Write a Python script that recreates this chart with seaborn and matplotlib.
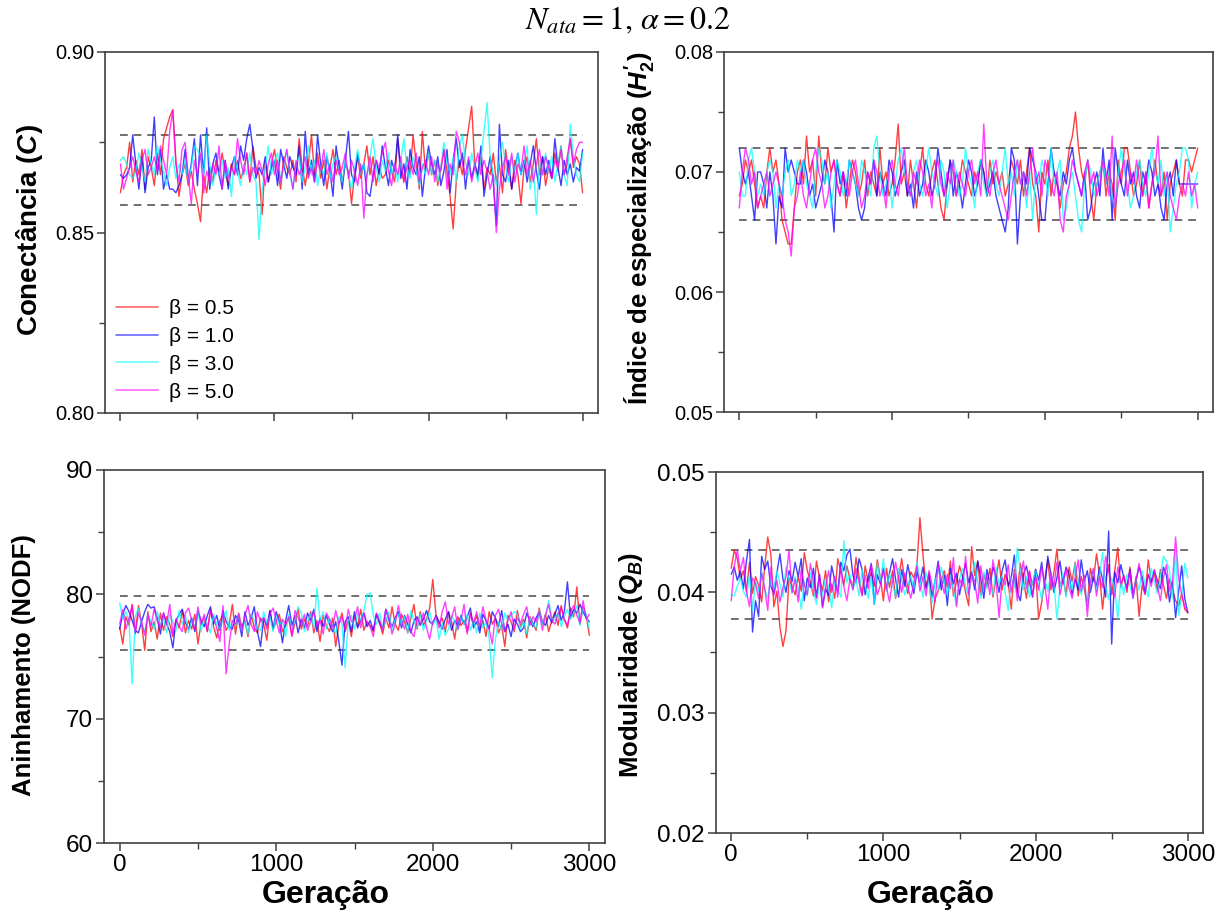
import numpy as np
import pandas as pd
import matplotlib
matplotlib.use("Agg")
import matplotlib.pyplot as plt
import seaborn as sns
from matplotlib.ticker import MultipleLocator, FormatStrFormatter

# ---------------- data ----------------
geracao = np.arange(0, 3001, 20)
betas = ["β = 0.5", "β = 1.0", "β = 3.0", "β = 5.0"]

# Conectancia (C), thousandths
con_b05 = [861, 866, 868, 875, 864, 870, 866, 873, 862, 871,
           868, 863, 872, 866, 876, 879, 882, 884, 870, 860,
           866, 869, 863, 867, 862, 858, 853, 866, 861, 868,
           864, 870, 866, 872, 867, 863, 869, 866, 870, 865,
           867, 872, 864, 874, 868, 866, 855, 870, 864, 869,
           873, 867, 862, 871, 868, 866, 870, 864, 876, 868,
           863, 869, 877, 866, 872, 865, 870, 862, 868, 873,
           866, 870, 864, 869, 867, 858, 866, 871, 865, 869,
           874, 866, 871, 863, 868, 865, 866, 870, 867, 864,
           876, 868, 864, 871, 866, 877, 869, 862, 878, 867,
           872, 866, 870, 863, 868, 873, 867, 860, 851, 864,
           870, 866, 873, 879, 885, 869, 865, 871, 862, 868,
           866, 872, 864, 869, 861, 873, 867, 862, 870, 866,
           858, 868, 871, 864, 869, 876, 866, 871, 863, 868,
           865, 872, 867, 874, 866, 869, 876, 868, 871, 869,
           861]
con_b10 = [866, 865, 866, 868, 877, 869, 862, 871, 861, 868,
           870, 882, 866, 873, 862, 866, 862, 862, 861, 863,
           866, 873, 864, 869, 876, 863, 877, 866, 879, 862,
           869, 872, 866, 862, 870, 862, 868, 871, 866, 874,
           870, 876, 880, 873, 865, 868, 866, 871, 864, 868,
           870, 863, 873, 869, 865, 871, 868, 866, 874, 862,
           878, 866, 870, 864, 877, 869, 863, 871, 867, 860,
           874, 868, 862, 870, 878, 866, 864, 872, 867, 869,
           861, 860, 866, 870, 866, 874, 868, 863, 870, 867,
           877, 865, 869, 862, 873, 868, 866, 871, 860, 868,
           874, 869, 866, 871, 863, 867, 873, 861, 870, 876,
           868, 872, 862, 870, 865, 869, 866, 874, 860, 866,
           871, 864, 852, 880, 866, 864, 870, 862, 868, 872,
           866, 870, 864, 869, 874, 867, 862, 871, 866, 870,
           865, 876, 868, 863, 870, 866, 869, 864, 868, 867,
           873]
con_b30 = [870, 871, 869, 866, 865, 867, 872, 868, 864, 873,
           869, 866, 874, 870, 867, 863, 868, 871, 865, 869,
           866, 870, 864, 868, 874, 873, 871, 866, 877, 869,
           863, 868, 866, 870, 865, 868, 860, 871, 867, 863,
           869, 866, 872, 866, 864, 848, 862, 868, 874, 866,
           870, 872, 864, 868, 873, 866, 862, 869, 871, 864,
           868, 874, 866, 870, 863, 868, 866, 872, 865, 869,
           871, 867, 864, 870, 866, 862, 868, 873, 866, 869,
           865, 871, 876, 868, 864, 870, 867, 872, 866, 869,
           864, 870, 876, 868, 865, 871, 867, 863, 869, 866,
           872, 866, 870, 864, 868, 875, 869, 866, 871, 864,
           874, 877, 869, 866, 872, 868, 864, 870, 878, 886,
           871, 866, 863, 870, 875, 868, 864, 871, 867, 872,
           866, 869, 874, 862, 868, 855, 870, 866, 872, 867,
           871, 864, 869, 874, 866, 863, 880, 871, 866, 864,
           872]
con_b50 = [869, 862, 865, 868, 871, 867, 864, 870, 873, 866,
           868, 871, 867, 874, 870, 866, 878, 884, 869, 864,
           873, 875, 866, 858, 870, 866, 872, 861, 867, 864,
           869, 866, 874, 862, 870, 865, 868, 866, 876, 870,
           866, 872, 864, 868, 866, 870, 867, 863, 869, 872,
           866, 870, 864, 869, 873, 867, 862, 870, 866, 868,
           871, 865, 868, 864, 870, 867, 873, 866, 869, 864,
           870, 866, 868, 872, 865, 870, 867, 863, 869, 854,
           866, 871, 864, 870, 868, 872, 875, 867, 863, 869,
           866, 871, 864, 868, 870, 866, 872, 864, 868, 870,
           866, 871, 864, 869, 867, 873, 862, 869, 866, 878,
           875, 869, 866, 871, 864, 868, 872, 866, 870, 867,
           862, 866, 850, 862, 868, 871, 866, 872, 864, 869,
           867, 874, 866, 870, 864, 869, 873, 866, 871, 868,
           865, 870, 868, 873, 866, 871, 876, 869, 873, 875,
           875]

# Indice de especializacao (H2'), thousandths
h2_b05 = [68, 69, 71, 70, 71, 69, 67, 68, 67, 70,
          72, 70, 71, 69, 66, 65, 64, 64, 67, 70,
          71, 69, 73, 70, 71, 68, 73, 70, 69, 72,
          70, 71, 69, 68, 70, 67, 69, 71, 70, 68,
          69, 71, 68, 70, 69, 68, 72, 69, 70, 68,
          69, 71, 74, 69, 70, 68, 71, 69, 67, 70,
          72, 69, 68, 70, 71, 69, 67, 66, 69, 71,
          70, 68, 69, 71, 70, 69, 68, 70, 69, 71,
          70, 68, 71, 69, 70, 69, 70, 68, 69, 71,
          70, 69, 71, 68, 70, 72, 69, 68, 65, 70,
          69, 71, 68, 70, 69, 67, 69, 70, 72, 73,
          75, 72, 70, 69, 71, 68, 66, 69, 70, 71,
          68, 70, 69, 66, 71, 69, 72, 72, 70, 68,
          69, 71, 68, 70, 67, 69, 71, 69, 68, 70,
          66, 69, 70, 71, 69, 68, 71, 71, 70, 71,
          72]
h2_b10 = [72, 70, 69, 70, 68, 66, 70, 70, 69, 67,
          70, 68, 64, 68, 67, 72, 70, 71, 70, 69,
          69, 71, 70, 68, 69, 67, 68, 69, 71, 70,
          68, 65, 71, 69, 70, 68, 71, 70, 69, 67,
          66, 67, 70, 69, 71, 68, 70, 69, 68, 71,
          70, 68, 69, 70, 71, 68, 69, 67, 70, 68,
          69, 71, 70, 68, 69, 72, 70, 68, 69, 71,
          68, 70, 69, 67, 69, 71, 70, 68, 69, 71,
          70, 68, 69, 70, 68, 67, 66, 65, 67, 72,
          71, 64, 68, 70, 69, 72, 71, 70, 68, 66,
          66, 69, 72, 70, 69, 68, 70, 69, 71, 72,
          70, 69, 68, 70, 66, 67, 69, 70, 68, 72,
          69, 71, 66, 72, 70, 69, 68, 71, 69, 70,
          68, 67, 70, 69, 71, 70, 68, 69, 67, 66,
          69, 70, 68, 71, 69, 69, 69, 69, 69, 69,
          69]
h2_b30 = [70, 68, 68, 71, 72, 70, 68, 69, 68, 70,
          71, 70, 67, 69, 68, 70, 71, 68, 69, 71,
          70, 71, 69, 68, 67, 70, 72, 71, 69, 70,
          67, 69, 71, 70, 68, 69, 71, 70, 69, 68,
          71, 70, 69, 68, 72, 73, 70, 68, 69, 70,
          67, 69, 71, 72, 70, 69, 68, 70, 71, 69,
          68, 70, 72, 70, 69, 68, 71, 70, 67, 69,
          71, 70, 68, 69, 72, 70, 69, 67, 70, 71,
          69, 68, 70, 71, 69, 68, 70, 72, 69, 70,
          68, 71, 69, 70, 67, 70, 66, 70, 69, 71,
          70, 68, 72, 69, 70, 71, 66, 67, 69, 70,
          68, 66, 65, 69, 71, 70, 68, 69, 70, 71,
          69, 70, 68, 67, 70, 72, 70, 69, 67, 68,
          70, 71, 69, 68, 70, 72, 70, 69, 71, 68,
          70, 65, 67, 69, 70, 72, 72, 71, 67, 69,
          70]
h2_b50 = [67, 70, 72, 71, 69, 70, 67, 68, 69, 70,
          68, 69, 70, 69, 68, 66, 65, 63, 67, 68,
          70, 68, 67, 69, 71, 72, 70, 69, 67, 68,
          70, 71, 69, 68, 70, 69, 68, 70, 71, 69,
          67, 68, 70, 69, 71, 70, 68, 69, 67, 70,
          71, 69, 68, 70, 72, 69, 68, 70, 69, 71,
          70, 68, 69, 67, 70, 71, 69, 68, 70, 69,
          71, 68, 70, 69, 68, 70, 71, 69, 70, 68,
          74, 69, 68, 70, 71, 69, 68, 67, 66, 68,
          70, 71, 69, 70, 68, 70, 72, 69, 70, 68,
          71, 70, 69, 68, 70, 66, 65, 68, 69, 71,
          70, 69, 68, 70, 71, 69, 70, 68, 69, 71,
          70, 68, 73, 67, 69, 70, 71, 68, 70, 69,
          71, 69, 68, 70, 67, 69, 70, 73, 68, 69,
          70, 68, 67, 66, 68, 69, 68, 70, 68, 69,
          67]

# Aninhamento (NODF), tenths
nodf_b05 = [774, 760, 782, 775, 792, 768, 791, 777, 755, 786,
            770, 778, 764, 785, 771, 782, 776, 766, 780, 773,
            787, 769, 779, 772, 784, 760, 777, 781, 770, 788,
            774, 765, 779, 783, 771, 776, 792, 768, 785, 774,
            779, 766, 784, 773, 769, 781, 776, 763, 787, 772,
            778, 784, 770, 775, 781, 767, 777, 788, 772, 780,
            774, 786, 769, 779, 762, 783, 775, 770, 781, 758,
            776, 785, 770, 779, 766, 783, 774, 788, 771, 778,
            775, 770, 784, 777, 768, 781, 773, 790, 776, 771,
            784, 778, 769, 781, 792, 772, 786, 775, 780, 789,
            812, 784, 776, 781, 770, 786, 778, 764, 782, 775,
            779, 770, 785, 775, 783, 772, 779, 766, 786, 776,
            781, 769, 775, 758, 783, 778, 770, 787, 774, 780,
            765, 782, 777, 771, 789, 776, 784, 770, 779, 786,
            775, 791, 780, 773, 789, 782, 806, 776, 790, 783,
            767]
nodf_b10 = [772, 784, 791, 786, 779, 771, 769, 778, 786, 792,
            789, 790, 781, 768, 785, 776, 770, 757, 779, 784,
            788, 777, 772, 781, 770, 786, 779, 774, 783, 790,
            776, 783, 771, 787, 778, 774, 772, 783, 779, 766,
            786, 775, 781, 790, 770, 758, 781, 775, 787, 772,
            786, 778, 761, 779, 791, 775, 783, 769, 780, 773,
            785, 779, 788, 770, 781, 774, 783, 776, 770, 778,
            762, 743, 778, 782, 770, 786, 773, 779, 785, 774,
            779, 771, 784, 777, 772, 788, 779, 774, 781, 786,
            773, 783, 776, 769, 779, 782, 775, 780, 787, 778,
            776, 783, 778, 772, 780, 786, 771, 779, 775, 783,
            776, 782, 789, 773, 778, 769, 784, 779, 772, 786,
            781, 774, 787, 770, 776, 766, 780, 776, 770, 773,
            785, 779, 774, 781, 786, 778, 775, 783, 777, 784,
            791, 779, 786, 810, 781, 788, 785, 792, 786, 781,
            778]
nodf_b30 = [793, 780, 786, 778, 728, 782, 789, 776, 770, 784,
            778, 772, 786, 775, 781, 769, 784, 778, 771, 787,
            776, 783, 769, 779, 774, 787, 770, 782, 776, 769,
            784, 776, 772, 780, 787, 771, 779, 775, 784, 770,
            778, 768, 784, 779, 773, 771, 786, 777, 782, 770,
            783, 776, 779, 766, 784, 772, 779, 790, 785, 770,
            778, 784, 773, 805, 779, 786, 772, 781, 775, 768,
            782, 776, 741, 778, 783, 772, 785, 779, 787, 800,
            801, 783, 776, 785, 772, 779, 786, 771, 780, 784,
            776, 782, 769, 787, 778, 773, 784, 771, 779, 786,
            775, 781, 764, 777, 767, 772, 783, 778, 771, 782,
            776, 784, 771, 779, 769, 785, 773, 778, 765, 733,
            764, 778, 771, 785, 779, 783, 786, 784, 772, 778,
            768, 781, 776, 773, 787, 776, 783, 795, 781, 779,
            786, 774, 782, 788, 780, 785, 791, 775, 789, 784,
            772]
nodf_b50 = [776, 788, 772, 781, 791, 769, 785, 778, 767, 784,
            774, 788, 779, 773, 785, 776, 792, 768, 780, 774,
            770, 785, 789, 779, 772, 790, 776, 784, 770, 787,
            781, 773, 762, 791, 736, 760, 779, 776, 784, 770,
            783, 791, 776, 770, 786, 778, 781, 772, 784, 789,
            779, 769, 780, 776, 782, 766, 787, 781, 775, 784,
            771, 778, 786, 774, 779, 768, 785, 780, 773, 787,
            776, 782, 771, 788, 778, 780, 790, 773, 785, 777,
            774, 766, 785, 779, 771, 788, 781, 768, 776, 791,
            779, 772, 784, 770, 766, 781, 776, 785, 773, 764,
            778, 782, 773, 786, 794, 776, 781, 790, 772, 779,
            792, 768, 784, 777, 786, 774, 790, 779, 772, 760,
            783, 788, 776, 770, 779, 786, 773, 781, 777, 784,
            790, 775, 782, 778, 786, 771, 783, 792, 779, 776,
            784, 789, 780, 775, 786, 791, 783, 777, 795, 780,
            784]

# Modularidade (Q_B), ten-thousandths
qb_b05 = [420, 435, 428, 411, 418, 401, 425, 399, 413, 406,
          392, 421, 446, 432, 388, 401, 371, 355, 368, 412,
          405, 398, 413, 401, 433, 418, 409, 397, 426, 412,
          401, 418, 392, 407, 395, 428, 418, 406, 422, 411,
          405, 429, 413, 398, 422, 409, 416, 405, 427, 412,
          393, 420, 404, 418, 395, 412, 428, 410, 399, 417,
          412, 422, 462, 431, 405, 416, 378, 395, 401, 410,
          418, 404, 426, 397, 409, 422, 413, 400, 389, 438,
          414, 426, 398, 415, 405, 420, 396, 412, 427, 402,
          415, 408, 386, 419, 401, 424, 410, 395, 417, 406,
          419, 378, 392, 410, 427, 402, 416, 436, 405, 412,
          398, 421, 409, 425, 397, 413, 403, 389, 420, 409,
          432, 415, 386, 410, 423, 398, 418, 437, 404, 414,
          400, 421, 396, 413, 380, 406, 398, 427, 409, 416,
          401, 419, 406, 395, 411, 402, 393, 389, 399, 386,
          383]
qb_b10 = [415, 421, 410, 418, 403, 426, 444, 367, 393, 380,
          430, 419, 426, 405, 399, 416, 432, 411, 400, 418,
          409, 425, 413, 428, 393, 412, 404, 420, 396, 415,
          388, 403, 397, 422, 410, 401, 425, 418, 431, 436,
          414, 408, 428, 419, 398, 412, 424, 390, 415, 407,
          420, 402, 416, 428, 411, 396, 419, 405, 423, 410,
          399, 417, 408, 421, 403, 415, 396, 410, 426, 402,
          414, 389, 420, 407, 416, 398, 412, 424, 408, 417,
          402, 426, 411, 395, 419, 407, 421, 413, 400, 418,
          427, 405, 412, 431, 400, 393, 415, 422, 408, 396,
          419, 410, 425, 403, 430, 416, 400, 412, 426, 407,
          421, 415, 398, 411, 402, 427, 409, 418, 400, 413,
          405, 421, 411, 396, 451, 357, 417, 408, 423, 412,
          404, 419, 397, 410, 421, 413, 400, 415, 408, 418,
          410, 403, 421, 414, 392, 409, 379, 401, 422, 395,
          383]
qb_b30 = [398, 397, 405, 412, 401, 396, 414, 385, 409, 401,
          417, 403, 395, 411, 402, 418, 407, 396, 421, 410,
          399, 413, 404, 386, 409, 397, 416, 402, 390, 407,
          398, 412, 405, 387, 410, 403, 396, 443, 408, 415,
          402, 411, 397, 419, 406, 395, 413, 390, 424, 409,
          428, 401, 415, 407, 396, 420, 411, 398, 405, 414,
          403, 425, 410, 396, 417, 406, 391, 412, 402, 421,
          409, 398, 414, 402, 389, 411, 420, 405, 397, 413,
          425, 408, 395, 417, 403, 410, 398, 421, 407, 414,
          400, 385, 412, 404, 437, 417, 402, 413, 396, 409,
          418, 406, 394, 411, 401, 415, 408, 378, 404, 416,
          396, 410, 402, 424, 409, 398, 413, 386, 407, 419,
          401, 414, 433, 405, 394, 412, 403, 378, 410, 398,
          415, 406, 395, 411, 402, 418, 407, 396, 420, 409,
          399, 413, 430, 426, 418, 395, 435, 381, 397, 424,
          412]
qb_b50 = [393, 422, 435, 418, 429, 401, 388, 412, 407, 395,
          416, 403, 385, 421, 397, 410, 392, 404, 413, 435,
          400, 411, 392, 419, 406, 398, 424, 409, 395, 415,
          387, 404, 418, 400, 413, 396, 421, 405, 393, 411,
          402, 420, 408, 397, 414, 403, 423, 411, 398, 406,
          419, 404, 392, 410, 425, 412, 400, 416, 405, 395,
          408, 422, 401, 413, 397, 418, 406, 392, 424, 410,
          399, 415, 403, 429, 388, 411, 405, 430, 398, 416,
          409, 391, 422, 402, 414, 398, 427, 410, 379, 412,
          406, 423, 400, 415, 393, 411, 426, 403, 418, 397,
          413, 402, 421, 407, 386, 416, 404, 425, 398, 410,
          419, 404, 395, 412, 427, 401, 414, 380, 408, 420,
          397, 413, 404, 430, 418, 401, 396, 421, 407, 414,
          402, 418, 395, 410, 424, 408, 399, 415, 405, 419,
          406, 393, 412, 423, 401, 410, 446, 412, 398, 388,
          384]

# reference (dashed) levels
ref_con = [0.8575, 0.8770]
ref_h2 = [0.066, 0.072]
ref_nodf = [75.5, 79.9]
ref_qb = [0.0378, 0.0435]

# ---------------- style ----------------
sns.set_style("ticks")
plt.rcParams["font.family"] = ["Liberation Sans", "DejaVu Sans"]
plt.rcParams["text.color"] = "black"
plt.rcParams["mathtext.fontset"] = "custom"
plt.rcParams["mathtext.rm"] = "Liberation Sans:bold"
plt.rcParams["mathtext.bf"] = "Liberation Sans:bold"
plt.rcParams["mathtext.it"] = "Liberation Sans:italic:bold"

cores = {"β = 0.5": "#ff0000", "β = 1.0": "#0000ff",
         "β = 3.0": "#00ffff", "β = 5.0": "#ff00ff"}

fig = plt.figure(figsize=(12.29, 9.17), dpi=100)
W, H = 1229.0, 917.0


def rect(l, t, r, b):
    return [l / W, 1 - b / H, (r - l) / W, (b - t) / H]


ax_c = fig.add_axes(rect(105, 52, 598, 413))
ax_h = fig.add_axes(rect(724, 52, 1213, 412))
ax_n = fig.add_axes(rect(104, 470, 605, 843))
ax_q = fig.add_axes(rect(716, 472, 1203, 833))

paineis = [
    (ax_c, [con_b05, con_b10, con_b30, con_b50], 1000.0, (0.80, 0.90), 0.05, "%.2f", ref_con, 14.5, True),
    (ax_h, [h2_b05, h2_b10, h2_b30, h2_b50], 1000.0, (0.05, 0.08), 0.01, "%.2f", ref_h2, 14.5, False),
    (ax_n, [nodf_b05, nodf_b10, nodf_b30, nodf_b50], 10.0, (60, 90), 10, "%d", ref_nodf, 17.5, False),
    (ax_q, [qb_b05, qb_b10, qb_b30, qb_b50], 10000.0, (0.02, 0.05), 0.01, "%.2f", ref_qb, 17.5, False),
]

for ax, series, esc, ylim, passo, fmt, refs, lsize, leg in paineis:
    frames = []
    for b, s in zip(betas, series):
        frames.append(pd.DataFrame({"Geração": geracao,
                                    "valor": np.asarray(s, float) / esc,
                                    "beta": b}))
    df = pd.concat(frames, ignore_index=True)
    sns.lineplot(data=df, x="Geração", y="valor", hue="beta", palette=cores,
                 estimator=None, sort=False, linewidth=1.0, alpha=0.75,
                 ax=ax, legend=leg)
    ax.hlines(refs, 0, 3000, colors="#707070", linestyles=(0, (4, 3)),
              linewidth=1.4, zorder=1)
    ax.set_xlim(-100, 3100)
    ax.set_ylim(*ylim)
    ax.xaxis.set_major_locator(MultipleLocator(1000))
    ax.xaxis.set_minor_locator(MultipleLocator(500))
    ax.yaxis.set_major_locator(MultipleLocator(passo))
    ax.yaxis.set_minor_locator(MultipleLocator(passo / 2))
    ax.yaxis.set_major_formatter(FormatStrFormatter(fmt))
    ax.tick_params(which="major", direction="out", length=6, width=1.1,
                   color="#404040", labelcolor="black", labelsize=lsize, pad=2)
    ax.tick_params(which="minor", direction="out", length=4, width=1.0,
                   color="#404040")
    ax.set_xlabel("")
    ax.set_ylabel("")
    for sp in ax.spines.values():
        sp.set_color("#404040")
        sp.set_linewidth(1.2)
    if ax in (ax_c, ax_h):
        ax.tick_params(axis="x", which="both", labelbottom=False)
    if leg:
        h, l = ax.get_legend_handles_labels()
        lg = ax.legend(h, l, loc="lower left", frameon=False, fontsize=15,
                       handlelength=2.0, handletextpad=0.5, labelspacing=0.42,
                       borderaxespad=0.15)
        for t in lg.get_texts():
            t.set_color("black")
        for ln in lg.get_lines():
            ln.set_alpha(0.6)
            ln.set_linewidth(1.2)

# axis titles
fig.text(30 / W, 1 - 230 / H, r"Conectância ($C$)", rotation=90, fontsize=20,
         fontweight="bold", ha="center", va="center")
fig.text(639 / W, 1 - 228 / H, r"Índice de especialização ($H_2^{\prime}$)",
         rotation=90, fontsize=18.5, fontweight="bold", ha="center", va="center")
fig.text(24 / W, 1 - 665 / H, "Aninhamento (NODF)", rotation=90, fontsize=18.5,
         fontweight="bold", ha="center", va="center")
fig.text(631 / W, 1 - 665 / H, r"Modularidade ($Q_B$)", rotation=90,
         fontsize=18.5, fontweight="bold", ha="center", va="center")
fig.text(326 / W, 1 - 895 / H, "Geração", fontsize=23, fontweight="bold",
         ha="center", va="center")
fig.text(931 / W, 1 - 895 / H, "Geração", fontsize=23, fontweight="bold",
         ha="center", va="center")
fig.text(628 / W, 1 - 21 / H, r"$N_{ata} = 1,\, \alpha = 0.2$",
         fontsize=23, math_fontfamily="stix", ha="center", va="center")

fig.savefig("out.png", dpi=100)
